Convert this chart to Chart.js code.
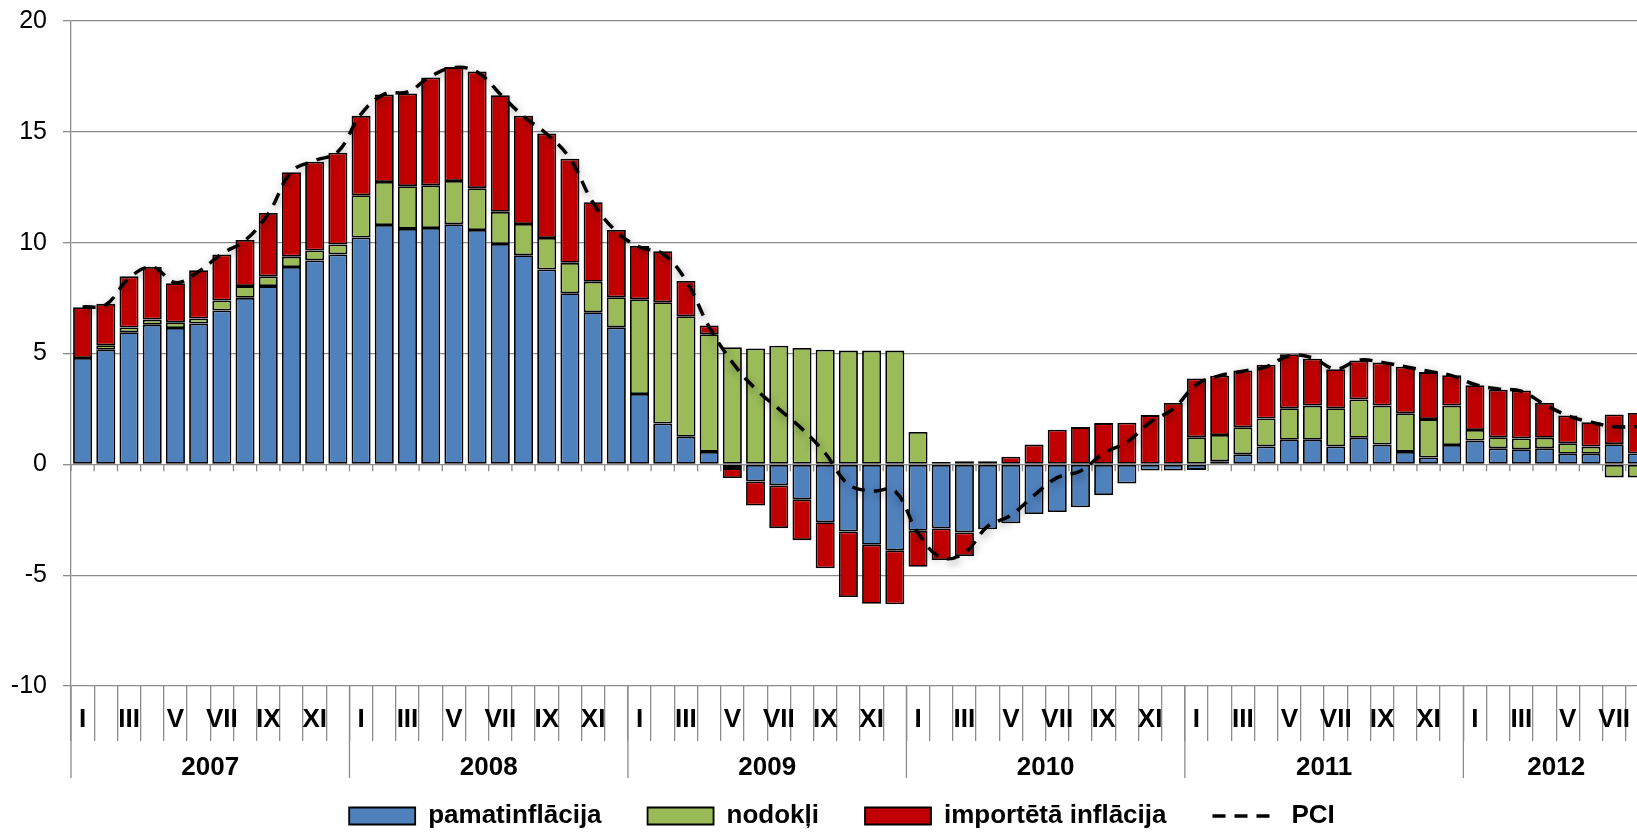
<!DOCTYPE html>
<html lang="lv">
<head>
<meta charset="utf-8">
<title>PCI</title>
<script src="https://cdn.jsdelivr.net/npm/chart.js@4.4.0/dist/chart.umd.min.js"></script>
<style>
    html, body { margin: 0; padding: 0; background: #fff; overflow: hidden; }
    canvas { display: block; }
</style>
</head>
<body>
<canvas id="inflationChart" width="1684" height="850"></canvas>
<script>
const years = ['2007', '2008', '2009', '2010', '2011', '2012']
const monthNames = ['I', 'II', 'III', 'IV', 'V', 'VI', 'VII', 'VIII', 'IX', 'X', 'XI', 'XII']
const monthsInLastYear = 8

const yTicks = [-10, -5, 0, 5, 10, 15, 20]

// pamatinflācija
const coreInflation = [
    4.8, 5.17, 5.96, 6.3, 6.15, 6.35, 6.94, 7.51, 8.04, 8.9, 9.2, 9.47,
    10.23, 10.8, 10.62, 10.66, 10.83, 10.57, 9.94, 9.43, 8.79, 7.72, 6.86, 6.18,
    3.17, 1.84, 1.25, 0.56, -0.17, -0.77, -0.95, -1.58, -2.61, -3.03, -3.63, -3.88,
    -3.0, -2.89, -3.07, -2.93, -2.66, -2.24, -2.15, -1.94, -1.39, -0.87, -0.28, -0.28,
    -0.25, 0.14, 0.45, 0.81, 1.11, 1.11, 0.81, 1.2, 0.89, 0.56, 0.31, 0.87,
    1.07, 0.72, 0.68, 0.72, 0.48, 0.48, 0.91, 0.49
]

// nodokļi
const taxes = [
    0, 0.2, 0.21, 0.23, 0.26, 0.23, 0.45, 0.53, 0.44, 0.47, 0.45, 0.45,
    1.91, 1.94, 1.93, 1.93, 1.95, 1.89, 1.45, 1.41, 1.42, 1.37, 1.38, 1.36,
    4.28, 5.47, 5.43, 5.31, 5.28, 5.23, 5.35, 5.25, 5.17, 5.13, 5.13, 5.13,
    1.46, 0.1, 0.14, 0.14, 0, 0, 0, 0, 0, 0, 0, 0,
    1.22, 1.18, 1.22, 1.26, 1.42, 1.54, 1.72, 1.73, 1.76, 1.74, 1.73, 1.78,
    0.48, 0.5, 0.49, 0.48, 0.47, 0.32, -0.59, -0.59
]

// importētā inflācija
const importedInflation = [
    2.29, 1.87, 2.31, 2.38, 1.76, 2.18, 2.08, 2.08, 2.86, 3.81, 4.0, 4.14,
    3.58, 3.94, 4.18, 4.86, 5.14, 5.26, 5.26, 4.89, 4.72, 4.7, 3.58, 3.03,
    2.4, 2.3, 1.59, 0.39, -0.45, -1.09, -1.93, -1.84, -2.08, -2.96, -2.66, -2.43,
    -1.62, -1.43, -1.07, 0, 0.34, 0.89, 1.56, 1.68, 1.86, 1.88, 2.22, 2.77,
    2.65, 2.68, 2.56, 2.42, 2.44, 2.11, 1.76, 1.75, 1.94, 2.1, 2.12, 1.37,
    2.02, 2.15, 2.16, 1.57, 1.25, 1.1, 1.34, 1.83
]

// PCI
const cpi = [
    7.1, 7.2, 8.4, 8.9, 8.2, 8.7, 9.5, 10.1, 11.3, 13.2, 13.7, 14.1,
    15.8, 16.7, 16.8, 17.5, 17.9, 17.7, 16.7, 15.7, 14.9, 13.8, 11.8, 10.5,
    9.8, 9.5, 8.3, 6.2, 4.6, 3.4, 2.5, 1.6, 0.5, -0.9, -1.2, -1.2,
    -3.1, -4.2, -4.0, -2.8, -2.3, -1.4, -0.6, -0.3, 0.5, 1.0, 1.9, 2.5,
    3.6, 4.0, 4.2, 4.4, 4.9, 4.8, 4.3, 4.7, 4.6, 4.4, 4.2, 4.0,
    3.6, 3.4, 3.3, 2.7, 2.2, 1.9, 1.7, 1.7
]

const categories = []
years.forEach((year, i) => {
    const count = i === years.length - 1 ? monthsInLastYear : 12
    for (let m = 0; m < count; m++) categories.push(year + ' ' + monthNames[m])
})

const FONT = '"Liberation Sans", Arial, sans-serif'
const GRID = '#8c8c8c'

function monthHalfWidth(x) {
    return (x.getPixelForValue(1) - x.getPixelForValue(0)) / 2
}

// small ticks under the zero line + shadow on the PCI line
const zeroTicks = {
    id: 'zeroTicks',
    beforeDatasetsDraw(chart) {
        const { ctx, scales: { x, y } } = chart
        const half = monthHalfWidth(x)
        const y0 = y.getPixelForValue(0)
        ctx.save()
        ctx.strokeStyle = GRID
        ctx.lineWidth = 1.3
        for (let i = 0; i <= categories.length; i++) {
            const px = x.getPixelForValue(i) - half
            ctx.beginPath()
            ctx.moveTo(px, y0)
            ctx.lineTo(px, y0 + 7)
            ctx.stroke()
        }
        ctx.restore()
    },
    beforeDatasetDraw(chart, args) {
        if (args.index !== 3) return
        const ctx = chart.ctx
        ctx.save()
        ctx.shadowColor = 'rgba(0, 0, 0, 0.45)'
        ctx.shadowBlur = 8
        ctx.shadowOffsetX = 1
        ctx.shadowOffsetY = 3
    },
    afterDatasetDraw(chart, args) {
        if (args.index !== 3) return
        chart.ctx.restore()
    }
}

// second row of the category axis: years
const yearLabels = {
    id: 'yearLabels',
    afterDraw(chart) {
        const { ctx, chartArea, scales: { x } } = chart
        const half = monthHalfWidth(x)
        ctx.save()
        ctx.strokeStyle = GRID
        ctx.lineWidth = 1.3
        ctx.fillStyle = '#000'
        ctx.font = 'bold 26px ' + FONT
        ctx.textAlign = 'center'
        ctx.textBaseline = 'middle'
        let first = 0
        years.forEach((year, i) => {
            const count = i === years.length - 1 ? monthsInLastYear : 12
            const left = x.getPixelForValue(first) - half
            const right = x.getPixelForValue(first + count - 1) + half
            ctx.beginPath()
            ctx.moveTo(left, chartArea.bottom)
            ctx.lineTo(left, 778)
            ctx.stroke()
            ctx.fillText(year, (left + right) / 2, 768)
            first += count
        })
        ctx.restore()
    }
}

const barStyle = {
    borderColor: '#000',
    borderWidth: 1.8,
    borderSkipped: false,
    barPercentage: 0.82,
    categoryPercentage: 1,
    stack: 'parts'
}

const ctx = document.getElementById('inflationChart').getContext('2d')
new Chart(ctx, {
    type: 'bar',
    data: {
        labels: categories,
        datasets: [
            { ...barStyle, label: 'pamatinflācija', data: coreInflation, backgroundColor: '#4F81BD' },
            { ...barStyle, label: 'nodokļi', data: taxes, backgroundColor: '#9BBB59' },
            { ...barStyle, label: 'importētā inflācija', data: importedInflation, backgroundColor: '#C00000' },
            {
                type: 'line',
                label: 'PCI',
                data: cpi,
                stack: 'pci',
                order: -1,
                borderColor: '#000',
                backgroundColor: '#000',
                borderWidth: 3.5,
                borderDash: [13, 9],
                pointRadius: 0,
                tension: 0.4,
                fill: false
            }
        ]
    },
    options: {
        responsive: false,
        animation: false,
        layout: {
            padding: { left: 0, right: 0, top: 21, bottom: 11 }
        },
        scales: {
            x: {
                stacked: true,
                grid: {
                    offset: true,
                    drawOnChartArea: false,
                    drawTicks: true,
                    tickLength: 55,
                    color: GRID,
                    lineWidth: 1.3
                },
                border: { display: false },
                ticks: {
                    autoSkip: false,
                    maxRotation: 0,
                    padding: -37,
                    color: '#000',
                    font: { family: FONT, size: 26, weight: 'bold' },
                    callback: (value, index) => index % 2 === 0 ? monthNames[index % 12] : ''
                },
                afterFit: scale => {
                    scale.height = 71
                    scale.paddingLeft = 0
                    scale.paddingRight = 0
                }
            },
            y: {
                stacked: true,
                min: yTicks[0],
                max: yTicks[yTicks.length - 1],
                afterBuildTicks: scale => { scale.ticks = yTicks.map(v => ({ value: v })) },
                grid: { color: GRID, lineWidth: 1.3, tickLength: 8 },
                border: { color: GRID, width: 1.3 },
                ticks: {
                    padding: 16,
                    color: '#000',
                    font: { family: FONT, size: 25 }
                },
                afterFit: scale => {
                    scale.width = 71
                    scale.paddingTop = 0
                    scale.paddingBottom = 0
                }
            },
            // empty right box, keeps the legend centred like the original
            spacer: {
                type: 'linear',
                position: 'right',
                grid: { display: false },
                border: { display: false },
                ticks: { display: false },
                afterFit: scale => {
                    scale.width = 35
                    scale.paddingTop = 0
                    scale.paddingBottom = 0
                }
            }
        },
        plugins: {
            tooltip: { enabled: false },
            legend: {
                position: 'bottom',
                labels: {
                    usePointStyle: true,
                    pointStyleWidth: 66,
                    boxHeight: 17,
                    padding: 46,
                    color: '#000',
                    font: { family: FONT, size: 26, weight: 'bold' },
                    sort: (a, b) => a.datasetIndex - b.datasetIndex,
                    generateLabels: chart => Chart.defaults.plugins.legend.labels.generateLabels(chart).map(item => {
                        const dataset = chart.data.datasets[item.datasetIndex]
                        if (dataset.type === 'line') {
                            item.pointStyle = 'line'
                            item.lineDash = dataset.borderDash
                            item.lineWidth = dataset.borderWidth
                            item.strokeStyle = dataset.borderColor
                        } else {
                            item.pointStyle = 'rect'
                            item.lineWidth = dataset.borderWidth
                        }
                        return item
                    })
                }
            }
        }
    },
    plugins: [zeroTicks, yearLabels]
})
</script>
</body>
</html>
